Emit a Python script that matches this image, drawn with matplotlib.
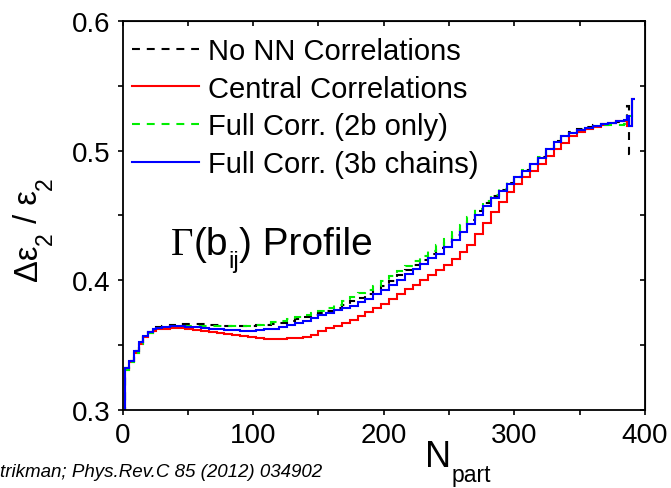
import matplotlib
matplotlib.use('Agg')
import matplotlib.pyplot as plt
from matplotlib.ticker import MultipleLocator

plt.rcParams['font.family'] = ['Liberation Sans', 'DejaVu Sans']

# Bin edges (N_part)
edges = ([0, 2, 5, 9, 12.5, 16, 19.5, 23, 26, 30] + list(range(36, 385, 6))
         + [386, 388, 390, 392])

# Delta eps2 / eps2 per bin
no_nn = [0.0,
         .332, .338, .345, .352, .357, .360, .3625, .364,
         .3648, .3655, .3660, .3660, .3660, .3658, .3655, .3652, .3650, .3650,
         .3650, .3650, .3652, .3656, .3662, .3672, .3684, .3698, .3712, .3728,
         .3745, .3765, .3786, .3812, .3840, .3866, .3895, .3926, .3958, .3995,
         .4038, .4080, .4118, .4158, .4200, .4245, .4292, .4345, .4402, .4468,
         .4530, .4595, .4648, .4695, .4750, .4798, .4848, .4898, .4948, .5012,
         .5072, .5115, .5140, .5165, .5182, .5195, .5205, .5212, .5222,
         .5230, .5345, .4975, .4975]

central = [0.0,
           .331, .337, .344, .351, .356, .359, .361, .362,
           .3625, .3628, .3628, .3624, .3618, .3610, .3600, .3590, .3582, .3575,
           .3568, .3562, .3555, .3545, .3545, .3548, .3550, .3555, .3562, .3580,
           .3605, .3628, .3650, .3672, .3696, .3722, .3752, .3785, .3818, .3855,
           .3895, .3930, .3966, .4002, .4040, .4078, .4118, .4165, .4220, .4275,
           .4355, .4440, .4525, .4600, .4680, .4745, .4800, .4845, .4895, .4960,
           .5010, .5060, .5110, .5140, .5165, .5185, .5200, .5210, .5225,
           .5228, .5190, .5190, .5395]

full_2b = [0.0,
           .331, .337, .344, .351, .356, .359, .3615, .363,
           .3640, .3648, .3650, .3650, .3648, .3646, .3645, .3645, .3645, .3646,
           .3648, .3650, .3656, .3664, .3674, .3686, .3700, .3714, .3730, .3748,
           .3765, .3785, .3808, .3840, .3872, .3900, .3928, .3958, .3990, .4030,
           .4072, .4112, .4150, .4188, .4228, .4270, .4318, .4370, .4425, .4490,
           .4550, .4610, .4655, .4700, .4755, .4800, .4850, .4900, .4950, .5015,
           .5070, .5110, .5135, .5160, .5175, .5188, .5200, .5200, .5195,
           .5205, .5270, .5270, .5380]

full_3b = [0.0,
           .332, .338, .345, .352, .357, .360, .362, .363,
           .3640, .3645, .3645, .3642, .3638, .3632, .3627, .3622, .3618, .3614,
           .3610, .3610, .3614, .3620, .3627, .3638, .3652, .3668, .3686, .3706,
           .3728, .3748, .3767, .3786, .3804, .3830, .3858, .3890, .3925, .3962,
           .4005, .4048, .4088, .4128, .4168, .4205, .4255, .4310, .4370, .4435,
           .4500, .4570, .4635, .4685, .4745, .4795, .4845, .4895, .4945, .5010,
           .5070, .5110, .5135, .5158, .5176, .5190, .5205, .5215, .5228,
           .5235, .5265, .5190, .5395]

fig = plt.figure(figsize=(6.71, 4.89), dpi=100)
ax = fig.add_axes([0.1826, 0.160, 0.7787, 0.795])

dash = (0, (3.8, 3.3))
ax.stairs(no_nn, edges, baseline=None, color='black', lw=1.5, linestyle=dash,
          label='No NN Correlations')
ax.stairs(central, edges, baseline=None, color='#ff0000', lw=1.5,
          label='Central Correlations')
ax.stairs(full_2b, edges, baseline=None, color='#00ee00', lw=1.5, linestyle=dash,
          label='Full Corr. (2b only)')
ax.stairs(full_3b, edges, baseline=None, color='#0000ff', lw=1.5,
          label='Full Corr. (3b chains)')

ax.set_xlim(0, 400)
ax.set_ylim(0.3, 0.6)
ax.xaxis.set_major_locator(MultipleLocator(100))
ax.xaxis.set_minor_locator(MultipleLocator(50))
ax.yaxis.set_major_locator(MultipleLocator(0.1))
ax.yaxis.set_minor_locator(MultipleLocator(0.05))
ax.tick_params(which='both', direction='out', length=3.8, width=1.2,
               labelsize=20, pad=5, top=False, right=False)
for s in ax.spines.values():
    s.set_linewidth(1.3)

# mirrored ticks pointing inward on top / right
top = ax.secondary_xaxis('top')
top.xaxis.set_major_locator(MultipleLocator(100))
top.xaxis.set_minor_locator(MultipleLocator(50))
top.tick_params(which='both', direction='in', length=3.8, width=1.2, labeltop=False)
right = ax.secondary_yaxis('right')
right.yaxis.set_major_locator(MultipleLocator(0.1))
right.yaxis.set_minor_locator(MultipleLocator(0.05))
right.tick_params(which='both', direction='in', length=3.8, width=1.2, labelright=False)

ax.legend(loc='upper left', bbox_to_anchor=(0.018, 0.959), frameon=False,
          fontsize=21, borderpad=0, borderaxespad=0, labelspacing=0.33,
          handlelength=2.3, handletextpad=0.3)

# "Γ(b_ij) Profile" built from pieces (Origin-style low subscript)
g = ax.text(0.0928, 0.4006, 'Γ', family='Liberation Serif', fontsize=28,
            transform=ax.transAxes, ha='left', va='baseline')
p1 = ax.annotate('(b', xy=(1, 0.4006), xycoords=(g, 'axes fraction'),
                 fontsize=28, ha='left', va='baseline', annotation_clip=False)
p2 = ax.annotate('ij', xy=(1, 0.367), xycoords=(p1, 'axes fraction'),
                 fontsize=17, ha='left', va='baseline', annotation_clip=False)
ax.annotate(') Profile', xy=(1, 0.4006), xycoords=(p2, 'axes fraction'),
            fontsize=28, ha='left', va='baseline', annotation_clip=False)

# y label  Δε_2 / ε_2 (rotated, pieces chained upward)
y0 = fig.text(37 / 671, 208 / 489, 'Δε', fontsize=23.5, rotation=90,
              rotation_mode='anchor', ha='left', va='baseline')
y1 = ax.annotate('2', xy=(52, 1), xycoords=('figure pixels', y0), fontsize=16.5,
                 rotation=90, rotation_mode='anchor', ha='left', va='baseline',
                 annotation_clip=False)
y2 = ax.annotate(' / ε', xy=(37, 1), xycoords=('figure pixels', y1), fontsize=23.5,
                 rotation=90, rotation_mode='anchor', ha='left', va='baseline',
                 annotation_clip=False)
ax.annotate('2', xy=(52, 1), xycoords=('figure pixels', y2), fontsize=16.5,
            rotation=90, rotation_mode='anchor', ha='left', va='baseline',
            annotation_clip=False)

# x label N_part
nx = ax.text(231.6, -0.1448, 'N', transform=ax.get_xaxis_transform(),
             fontsize=26, ha='left', va='baseline')
ax.annotate('part', xy=(1, -0.184), xycoords=(nx, 'axes fraction'),
            fontsize=16.5, ha='left', va='baseline', annotation_clip=False)

fig.text(0.0, 1 - 477 / 489, 'trikman; Phys.Rev.C 85 (2012) 034902',
         fontsize=13.5, style='italic', ha='left', va='baseline')

fig.savefig('out.png', dpi=100, facecolor='white')
